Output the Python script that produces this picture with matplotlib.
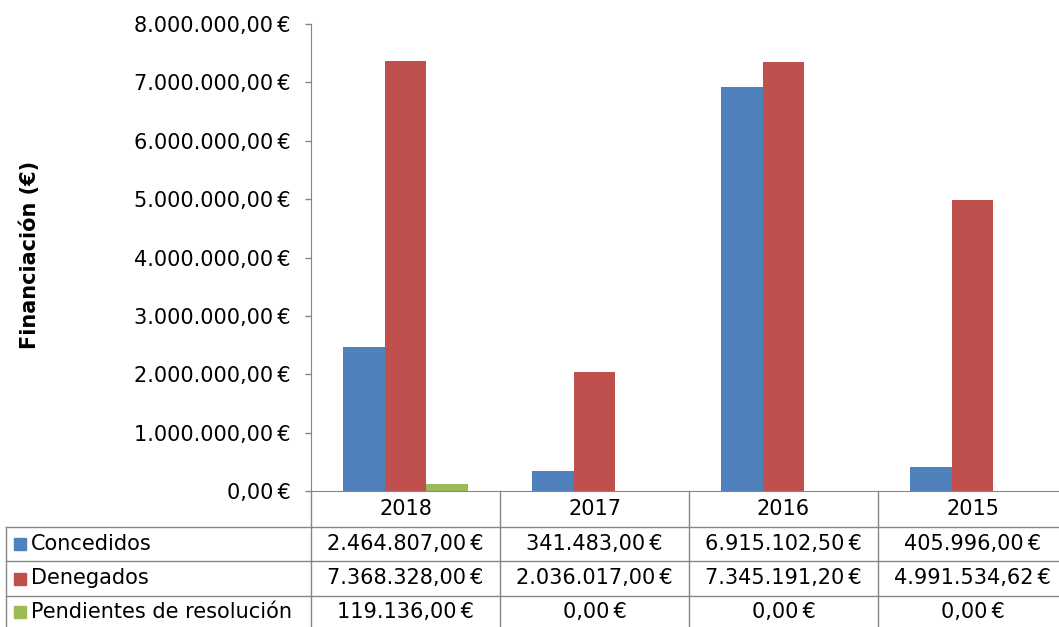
import matplotlib
matplotlib.use('Agg')
import matplotlib.pyplot as plt
import matplotlib.transforms as mtransforms
import numpy as np

years = ['2018', '2017', '2016', '2015']
series = ['Concedidos', 'Denegados', 'Pendientes de resolución']
concedidos = [2464807.00, 341483.00, 6915102.50, 405996.00]
denegados = [7368328.00, 2036017.00, 7345191.20, 4991534.62]
pendientes = [119136.00, 0.00, 0.00, 0.00]
colors = ['#4F81BD', '#C0504D', '#9BBB59']
yticks = np.arange(0, 8000001, 1000000)


def eur(v):
    s = f'{v:,.2f}'.replace(',', 'X').replace('.', ',').replace('X', '.')
    return s + '\u202f€'


plt.rcParams['font.family'] = ['DejaVu Sans']
W, H = 1059, 627
fig = plt.figure(figsize=(W / 100, H / 100), dpi=100)
ax = fig.add_axes([311 / W, 1 - 491 / H, (W - 311) / W, (491 - 24) / H])

x = np.arange(len(years))
bw = 0.22
data = [concedidos, denegados, pendientes]
for i, (vals, c) in enumerate(zip(data, colors)):
    ax.bar(x + (i - 1) * bw, vals, bw, color=c, edgecolor='none')

ax.set_xlim(-0.5, -0.5 + (W - 311) / 189)
ax.set_ylim(0, 8000000)
ax.set_yticks(yticks)
ax.set_yticklabels([eur(v) for v in yticks], fontsize=15)
ax.set_xticks([])
ax.tick_params(axis='y', length=4.5, width=1, color='#868686', pad=10)
for sp in ['top', 'right']:
    ax.spines[sp].set_visible(False)
ax.spines['left'].set_color('#868686')
ax.spines['bottom'].set_color('#868686')

fig.text(30 / W, 1 - 255 / H, 'Financiación (€)', rotation=90, fontsize=15,
         fontweight='bold', ha='center', va='center')

# data table below the axis
tr = mtransforms.blended_transform_factory(ax.transData, ax.transAxes)
ah = 491 - 24
def ay(py):
    return -(py - 491) / ah

line_kw = dict(color='#868686', lw=1, clip_on=False)
rows_py = [527, 561, 596, 627]
# horizontal lines
for py in rows_py[:3]:
    fig.add_artist(plt.Line2D([6 / W, 1], [1 - py / H, 1 - py / H], **line_kw))
# vertical lines
fig.add_artist(plt.Line2D([6 / W, 6 / W], [1 - 527 / H, 0], **line_kw))
for b in [-0.5, 0.5, 1.5, 2.5]:
    ax.plot([b, b], [0, ay(627)], transform=tr, **line_kw)

# header years
for xi, yr in zip(x, years):
    ax.text(xi, ay(509), yr, transform=tr, ha='center', va='center',
            fontsize=15, clip_on=False)

centers_py = [544, 578.5, 612]
for vals, name, c, cy in zip(data, series, colors, centers_py):
    fy = 1 - cy / H
    fig.patches.append(plt.Rectangle((14 / W, fy - 6 / H), 12 / W, 12 / H,
                                     transform=fig.transFigure, color=c))
    fig.text(31 / W, fy, name, ha='left', va='center', fontsize=15)
    for xi, v in zip(x, vals):
        ax.text(xi, ay(cy), eur(v), transform=tr, ha='center', va='center',
                fontsize=15, clip_on=False)

fig.savefig('out.png', dpi=100)
